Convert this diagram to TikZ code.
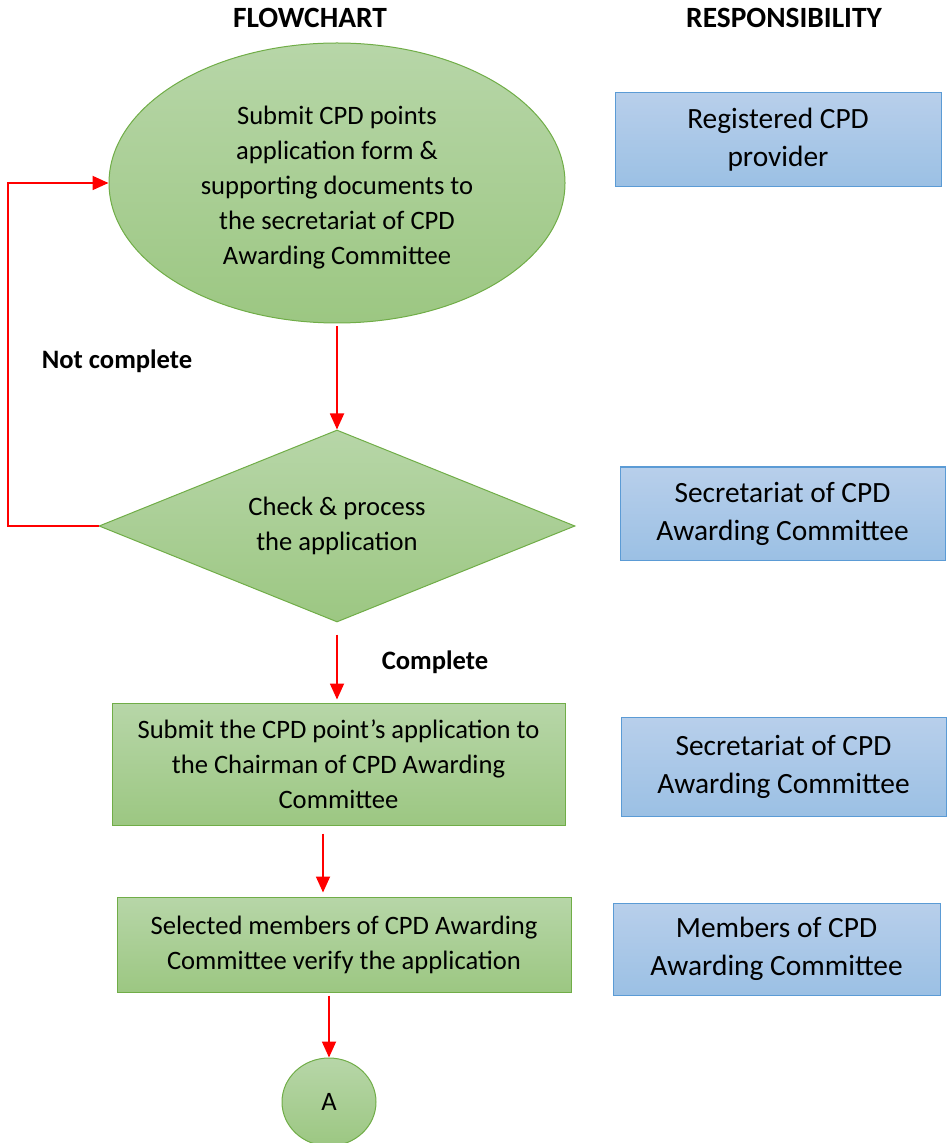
\documentclass[tikz,border=0pt]{standalone}
\usepackage{fontspec}
\setmainfont{Carlito}
\usepackage{tikz}
\usetikzlibrary{arrows.meta,positioning,shapes.geometric}
\definecolor{FlowGreenTop}{RGB}{183,214,168}
\definecolor{FlowGreenBot}{RGB}{156,199,130}
\definecolor{FlowGreenLine}{RGB}{112,173,71}
\definecolor{RespBlueTop}{RGB}{184,207,235}
\definecolor{RespBlueBot}{RGB}{155,192,228}
\definecolor{RespBlueLine}{RGB}{91,155,213}
\definecolor{ArrowRed}{RGB}{255,0,0}

\begin{document}
\begin{tikzpicture}[x=0.5pt, y=-0.5pt, >={Triangle[length=8pt,width=7pt]},
    flowshape/.style={draw=FlowGreenLine, line width=0.5pt, top color=FlowGreenTop,
        bottom color=FlowGreenBot, align=center, inner sep=0pt,
        font=\fontsize{13.3}{17.5}\selectfont},
    flowell/.style={flowshape, ellipse},
    flowdia/.style={flowshape, diamond},
    flowbox/.style={flowshape, rectangle},
    flowtext/.style={align=center, inner sep=0pt, font=\fontsize{13.3}{17.5}\selectfont},
    respbox/.style={draw=RespBlueLine, line width=0.5pt, top color=RespBlueTop,
        bottom color=RespBlueBot, align=center, inner sep=0pt,
        font=\fontsize{14.7}{19}\selectfont},
    hdr/.style={font=\fontsize{14.7}{17}\selectfont\bfseries},
    lbl/.style={font=\fontsize{13.3}{15}\selectfont\bfseries},
    flowarrow/.style={->, ArrowRed, line width=0.9pt}]
    \useasboundingbox (0,0) rectangle (951,1143);

    % Headers
    \node[hdr] (hflow) at (310,18) {FLOWCHART};
    \node[hdr] (hresp) at (784,18) {RESPONSIBILITY};

    % Flowchart column
    \node[flowell, minimum width=228pt, minimum height=140pt] (submit) at (337,183) {};
    \node[flowtext] (submittxt) at (337,188)
        {Submit CPD points\\application form \&\\supporting documents to\\the secretariat of CPD\\Awarding Committee};
    \node[flowdia, minimum width=238pt, minimum height=96pt] (check) at (337,526) {};
    \node[flowtext] (checktxt) at (337,526) {Check \& process\\the application};
    \node[flowbox, minimum width=226.5pt, minimum height=61pt] (chair) at (338.5,764)
        {Submit the CPD point’s application to\\the Chairman of CPD Awarding\\Committee};
    \node[flowbox, minimum width=227pt, minimum height=47.5pt] (verify) at (344,944.5)
        {Selected members of CPD Awarding\\Committee verify the application};
    \node[flowell, minimum width=47pt, minimum height=44pt] (conn) at (329,1102) {A};

    % Responsibility column
    \node[respbox, minimum width=163pt, minimum height=47pt] (prov) at (778,140)
        {Registered CPD\\provider};
    \node[respbox, minimum width=162.5pt, minimum height=46.5pt] (sec1) at (782.5,513.5)
        {Secretariat of CPD\\Awarding Committee};
    \node[respbox, minimum width=162.5pt, minimum height=49.5pt] (sec2) at (783.5,766.5)
        {Secretariat of CPD\\Awarding Committee};
    \node[respbox, minimum width=163.5pt, minimum height=46pt] (memb) at (776.5,949)
        {Members of CPD\\Awarding Committee};

    % Decision labels
    \node[lbl] (notdone) at (117,361) {Not complete};
    \node[lbl] (done) at (435,662) {Complete};

    % Arrows
    \draw[flowarrow, shorten <=1.5pt] (submit.south) -- (check.north);
    \draw[flowarrow, shorten <=6pt, shorten >=1.5pt] (check.south) -- (check.south |- chair.north);
    \draw[flowarrow, shorten <=4pt, shorten >=2pt] ([xshift=-7.75pt]chair.south) -- ([xshift=-7.75pt]chair.south |- verify.north);
    \draw[flowarrow, shorten <=1.5pt] (verify.south -| conn) -- (conn.north);

    % Loop back when not complete
    \coordinate (back) at (8,526);
    \draw[flowarrow] (check.west) -- (back) |- (submit.west);
\end{tikzpicture}
\end{document}
